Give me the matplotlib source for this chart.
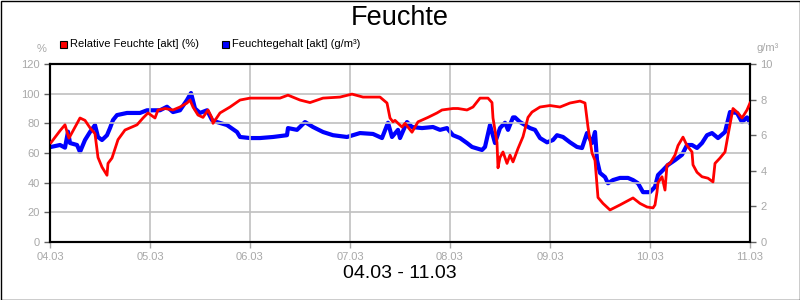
import matplotlib
matplotlib.use('Agg')
import matplotlib.pyplot as plt
from matplotlib.patches import Rectangle

plt.rcParams['font.family'] = ['Liberation Sans', 'DejaVu Sans']

day_labels = ['04.03', '05.03', '06.03', '07.03', '08.03', '09.03', '10.03', '11.03']

# relative Feuchte (%), x in days since 04.03
rh_t = [0.01, 0.10, 0.15, 0.18, 0.19, 0.30, 0.35, 0.40, 0.45, 0.48, 0.52, 0.57, 0.58, 0.62, 0.68,
        0.75, 0.87, 0.93, 0.98, 1.05, 1.08, 1.15, 1.23, 1.30, 1.37, 1.40, 1.43, 1.48, 1.53, 1.58,
        1.62, 1.63, 1.70, 1.80, 1.90, 2.00, 2.17, 2.30, 2.38, 2.50, 2.60, 2.73, 2.90, 3.02, 3.13,
        3.30, 3.37, 3.40, 3.43, 3.45, 3.52, 3.55, 3.62, 3.68, 3.78, 3.87, 3.92, 4.03, 4.08, 4.17,
        4.23, 4.30, 4.38, 4.42, 4.43, 4.47, 4.48, 4.50, 4.53, 4.57, 4.60, 4.63, 4.68, 4.73, 4.78,
        4.82, 4.90, 5.00, 5.10, 5.20, 5.30, 5.35, 5.38, 5.42, 5.45, 5.48, 5.53, 5.60, 5.70, 5.83,
        5.90, 5.97, 6.03, 6.05, 6.07, 6.08, 6.12, 6.15, 6.17, 6.20, 6.25, 6.28, 6.33, 6.37, 6.42,
        6.43, 6.47, 6.52, 6.58, 6.63, 6.65, 6.70, 6.75, 6.78, 6.83, 6.88, 6.92, 6.97, 7.00]
rh_v = [67, 75, 79, 72, 70, 83.6, 82, 77, 73, 57, 50.5, 45, 53, 56.6, 69,
        75.5, 79, 83.6, 87, 83.6, 89, 90, 89, 91, 93.7, 95.7, 91, 85.6, 84, 89,
        83.6, 80, 87, 91, 95.7, 97, 97, 97, 99, 95.7, 94, 97, 97.7, 99.7, 97.7,
        97.7, 93.7, 83.6, 81, 82, 77.5, 80, 74, 81, 84, 87, 89, 90, 90, 89,
        91, 97, 97, 94, 83.6, 67, 50, 57, 60.7, 53, 58.6, 54, 63, 71, 84,
        87.6, 91, 92, 91, 93.7, 95, 93.7, 77.5, 60, 55, 30, 26, 21.6, 25, 29.7,
        26, 23.6, 23, 25, 33.7, 40, 44, 35, 52, 53, 58.6, 65, 70.7, 65, 60.7,
        52, 47, 44, 43, 40.5, 53, 56.6, 60.7, 72, 90, 87, 83.6, 89, 93.7]

# Feuchtegehalt (g/m³)
ah_t = [0.01, 0.10, 0.15, 0.18, 0.20, 0.27, 0.30, 0.35, 0.40, 0.45, 0.48, 0.52, 0.57, 0.60, 0.63,
        0.67, 0.77, 0.90, 0.97, 1.10, 1.17, 1.23, 1.30, 1.37, 1.41, 1.45, 1.50, 1.57, 1.62, 1.67,
        1.77, 1.87, 1.90, 2.00, 2.10, 2.23, 2.37, 2.38, 2.47, 2.55, 2.63, 2.73, 2.83, 2.97, 3.10,
        3.23, 3.32, 3.38, 3.42, 3.48, 3.50, 3.57, 3.62, 3.72, 3.83, 3.90, 3.97, 4.03, 4.10, 4.17,
        4.22, 4.32, 4.35, 4.40, 4.45, 4.50, 4.55, 4.58, 4.63, 4.65, 4.70, 4.75, 4.80, 4.85, 4.90,
        4.97, 5.03, 5.07, 5.13, 5.20, 5.27, 5.32, 5.37, 5.42, 5.45, 5.47, 5.50, 5.55, 5.58, 5.63,
        5.70, 5.78, 5.83, 5.88, 5.93, 6.00, 6.05, 6.08, 6.13, 6.18, 6.25, 6.32, 6.37, 6.42, 6.47,
        6.52, 6.57, 6.62, 6.68, 6.75, 6.80, 6.87, 6.92, 6.97, 7.00]
ah_v = [5.34, 5.45, 5.3, 6.2, 5.56, 5.45, 5.06, 5.73, 6.18, 6.57, 5.9, 5.73, 6.0, 6.4, 6.85,
        7.13, 7.25, 7.25, 7.4, 7.4, 7.6, 7.3, 7.4, 7.98, 8.37, 7.5, 7.25, 7.4, 6.85, 6.74,
        6.57, 6.18, 5.9, 5.84, 5.84, 5.9, 6.0, 6.4, 6.3, 6.74, 6.46, 6.18, 6.0, 5.9, 6.12,
        6.07, 5.84, 6.7, 5.9, 6.3, 5.84, 6.74, 6.46, 6.4, 6.46, 6.3, 6.4, 6.0, 5.84, 5.56,
        5.34, 5.17, 5.34, 6.57, 5.56, 6.4, 6.7, 6.3, 7.0, 7.0, 6.74, 6.57, 6.4, 6.3, 5.84,
        5.6, 5.73, 6.0, 5.9, 5.6, 5.34, 5.28, 6.12, 5.56, 6.18, 4.6, 3.88, 3.65, 3.3, 3.48,
        3.6, 3.6, 3.48, 3.3, 2.8, 2.8, 3.1, 3.76, 4.04, 4.33, 4.6, 4.9, 5.45, 5.45, 5.28,
        5.56, 6.0, 6.12, 5.84, 6.18, 7.3, 7.25, 6.74, 7.0, 6.7]

grey = '#a8a8a8'

fig = plt.figure(figsize=(8, 3), dpi=100)
ax1 = fig.add_axes([50 / 800, 58 / 300, 700 / 800, 178 / 300])
ax2 = ax1.twinx()

ax1.plot(rh_t, rh_v, color='#ff0000', lw=2.0, zorder=3)
ax2.plot(ah_t, ah_v, color='#0000ff', lw=3.0, zorder=2)
ax1.set_zorder(ax2.get_zorder() + 1)
ax1.patch.set_visible(False)

ax1.set_xlim(0, 7)
ax1.set_ylim(0, 120)
ax2.set_ylim(0, 10)
ax1.set_xticks(range(len(day_labels)))
ax1.set_xticklabels(day_labels)
ax1.set_yticks(range(0, 121, 20))
ax2.set_yticks(range(0, 11, 2))
ax1.grid(True, color='#c0c0c0', lw=1.2)

for ax in (ax1, ax2):
    ax.tick_params(labelsize=8, labelcolor=grey, color='#606060', length=4, width=1)
    for s in ax.spines.values():
        s.set_linewidth(1.5)
        s.set_color('black')
ax1.tick_params(axis='x', color=grey)

fig.text(0.5, 1 - 18 / 300, 'Feuchte', ha='center', va='center', fontsize=19.5)
fig.text(0.5, 1 - 273 / 300, '04.03 - 11.03', ha='center', va='center', fontsize=14)
fig.text(42 / 800, 1 - 49 / 300, '%', ha='center', va='center', fontsize=8, color=grey)
fig.text(768 / 800, 1 - 48 / 300, 'g/m³', ha='center', va='center', fontsize=8, color=grey)

# legend
for x0, col, lab in [(60, '#ff0000', 'Relative Feuchte [akt] (%)'),
                     (222, '#0000ff', 'Feuchtegehalt [akt] (g/m³)')]:
    fig.patches.append(Rectangle((x0 / 800, 1 - 48 / 300), 7 / 800, 7 / 300, facecolor=col,
                                 edgecolor='black', lw=0.8, transform=fig.transFigure))
    fig.text((x0 + 10) / 800, 1 - 44 / 300, lab, ha='left', va='center', fontsize=8)

fig.patches.append(Rectangle((0.5 / 800, 0.5 / 300), 799 / 800, 299 / 300, fill=False,
                             edgecolor='black', lw=1, transform=fig.transFigure))

fig.savefig('out.png', dpi=100)
